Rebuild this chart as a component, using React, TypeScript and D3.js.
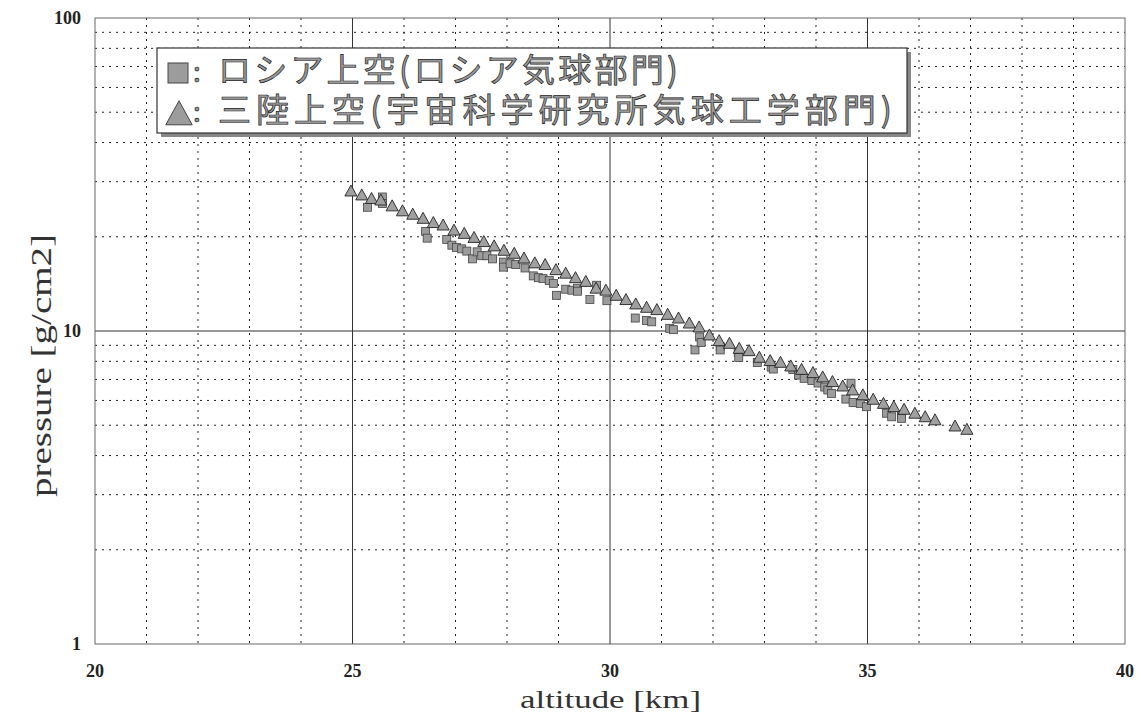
import React from "react";
import * as d3 from "d3";

// Sanriku (triangles)
const sanrikuAlt = [24.97, 25.18, 25.37, 25.55, 25.77, 25.97, 26.17, 26.37, 26.57, 26.76, 26.97, 27.17, 27.36, 27.55, 27.75, 27.94, 28.14, 28.33, 28.54, 28.74, 28.95, 29.14, 29.33, 29.53, 29.73, 29.92, 30.12, 30.31, 30.5, 30.71, 30.91, 31.12, 31.33, 31.54, 31.73, 31.93, 32.12, 32.32, 32.51, 32.7, 32.9, 33.11, 33.31, 33.51, 33.72, 33.94, 34.13, 34.32, 34.52, 34.71, 34.91, 35.11, 35.31, 35.51, 35.71, 35.92, 36.12, 36.31, 36.7, 36.93];
const sanrikuP = [28.0, 27.2, 26.5, 26.2, 25.1, 24.2, 23.6, 22.9, 22.2, 21.8, 21.0, 20.5, 19.9, 19.3, 18.7, 18.1, 17.7, 17.1, 16.5, 16.3, 15.7, 15.3, 14.8, 14.4, 13.7, 13.5, 13.0, 12.6, 12.2, 11.9, 11.7, 11.3, 11.0, 10.6, 10.3, 9.71, 9.31, 9.13, 8.8, 8.65, 8.24, 8.04, 7.94, 7.73, 7.54, 7.36, 7.13, 6.89, 6.67, 6.48, 6.25, 6.05, 5.87, 5.73, 5.62, 5.46, 5.32, 5.2, 4.97, 4.85];

// Russia (squares)
const russiaAlt = [25.29, 25.58, 25.58, 26.42, 26.45, 26.83, 26.93, 27.02, 27.12, 27.22, 27.33, 27.42, 27.51, 27.61, 27.72, 27.93, 27.93, 28.06, 28.17, 28.35, 28.51, 28.61, 28.7, 28.82, 28.9, 28.96, 29.14, 29.26, 29.37, 29.37, 29.61, 29.74, 29.94, 30.49, 30.71, 30.81, 31.16, 31.23, 31.65, 31.74, 31.77, 32.14, 32.14, 32.49, 32.5, 32.86, 33.13, 33.17, 33.55, 33.66, 33.77, 33.92, 34.04, 34.17, 34.23, 34.3, 34.68, 34.58, 34.72, 34.86, 34.98, 35.37, 35.47, 35.66, 35.66];
const russiaP = [24.85, 26.8, 25.55, 20.8, 19.8, 19.6, 18.8, 18.5, 18.3, 18.0, 17.0, 17.9, 17.4, 17.4, 17.0, 16.6, 16.0, 16.4, 16.3, 15.9, 15.0, 14.8, 14.7, 14.5, 14.2, 13.0, 13.6, 13.5, 13.7, 13.4, 12.6, 14.0, 12.5, 11.0, 10.8, 10.7, 10.2, 10.1, 8.7, 9.57, 9.19, 8.91, 8.7, 8.54, 8.23, 7.93, 7.67, 7.56, 7.53, 7.23, 7.06, 6.95, 6.82, 6.62, 6.48, 6.32, 6.81, 6.06, 5.91, 5.87, 5.73, 5.46, 5.32, 5.39, 5.26];

const xTicks = [20, 25, 30, 35, 40];
const yTicks = [1, 10, 100];
const xMinor = [21, 22, 23, 24, 26, 27, 28, 29, 31, 32, 33, 34, 36, 37, 38, 39];
const xMajor = [25, 30, 35];
const yMinor = [2, 3, 4, 5, 6, 7, 8, 9, 20, 30, 40, 50, 60, 70, 80, 90];
const yMajor = [10];

const legendRows = ["ロシア上空(ロシア気球部門)", "三陸上空(宇宙科学研究所気球工学部門)"];
const xTitle = "altitude [km]";
const yTitle = "pressure [g/cm2]";

const W = 1146, H = 718;
const L = 95, R = 1125, T = 18, B = 644;

export default function App() {
  const x = d3.scaleLinear().domain([20, 40]).range([L, R]);
  const y = d3.scaleLog().domain([1, 100]).range([B, T]);
  const serif = "Times New Roman, Liberation Serif, Times, serif";
  const cjk = "Noto Sans CJK JP, sans-serif";
  const tri = (cx: number, cy: number, s: number) =>
    `M${cx},${cy - s * 0.55}L${cx + s * 0.55},${cy + s * 0.45}L${cx - s * 0.55},${cy + s * 0.45}Z`;

  return (
    <svg width={W} height={H} style={{ position: "absolute", left: 0, top: 0, background: "#fff" }}>
      {/* minor grid */}
      {xMinor.map((v) => (
        <line key={"xm" + v} x1={x(v)} x2={x(v)} y1={T} y2={B} stroke="#222" strokeWidth={1} strokeDasharray="2,5" />
      ))}
      {yMinor.map((v) => (
        <line key={"ym" + v} x1={L} x2={R} y1={y(v)} y2={y(v)} stroke="#222" strokeWidth={1} strokeDasharray="2,5" />
      ))}
      {xMajor.map((v) => (
        <line key={"xM" + v} x1={x(v)} x2={x(v)} y1={T} y2={B} stroke="#333" strokeWidth={1} />
      ))}
      {yMajor.map((v) => (
        <line key={"yM" + v} x1={L} x2={R} y1={y(v)} y2={y(v)} stroke="#333" strokeWidth={1.2} />
      ))}
      <rect x={L} y={T} width={R - L} height={B - T} fill="none" stroke="#666" strokeWidth={1} />

      {/* tick labels */}
      {xTicks.map((v) => (
        <text key={"xt" + v} x={x(v)} y={677} textAnchor="middle" fontFamily={serif} fontWeight="bold" fontSize={18} fill="#222">{v}</text>
      ))}
      {yTicks.map((v) => (
        <text key={"yt" + v} x={81} y={y(v) + 6} textAnchor="end" fontFamily={serif} fontWeight="bold" fontSize={18} fill="#222">{v}</text>
      ))}

      {/* axis titles */}
      <text x={520} y={708} fontFamily={serif} fontSize={26} fill="#333" textLength={181} lengthAdjust="spacingAndGlyphs">{xTitle}</text>
      <text transform="translate(51,497) rotate(-90)" fontFamily={serif} fontSize={29} fill="#333" textLength={263} lengthAdjust="spacingAndGlyphs">{yTitle}</text>

      {/* data */}
      {russiaAlt.map((a, i) => (
        <rect key={"s" + i} x={x(a) - 4} y={y(russiaP[i]) - 4} width={8} height={8} fill="#9c9c9c" stroke="#444" strokeWidth={0.8} />
      ))}
      {sanrikuAlt.map((a, i) => (
        <path key={"t" + i} d={tri(x(a), y(sanrikuP[i]), 11)} fill="#a0a0a0" stroke="#222" strokeWidth={0.9} />
      ))}

      {/* legend */}
      <rect x={161} y={52} width={750} height={85} fill="#888" />
      <rect x={157} y={48} width={750} height={85} fill="#fff" stroke="#333" strokeWidth={1.2} />
      <rect x={168} y={63} width={20} height={20} fill="#9c9c9c" stroke="#444" strokeWidth={1} />
      <path d={tri(179, 114, 24)} fill="#9c9c9c" stroke="#444" strokeWidth={1} />
      <text x={193} y={82} fontFamily={cjk} fontSize={28} fill="#999" stroke="#222" strokeWidth={0.7}>:</text>
      <text x={193} y={122} fontFamily={cjk} fontSize={28} fill="#999" stroke="#222" strokeWidth={0.7}>:</text>
      <text x={218} y={82} fontFamily={cjk} fontSize={33} fill="#999" stroke="#222" strokeWidth={0.7} textLength={460} lengthAdjust="spacing">{legendRows[0]}</text>
      <text x={218} y={122} fontFamily={cjk} fontSize={33} fill="#999" stroke="#222" strokeWidth={0.7} textLength={674} lengthAdjust="spacing">{legendRows[1]}</text>
    </svg>
  );
}
